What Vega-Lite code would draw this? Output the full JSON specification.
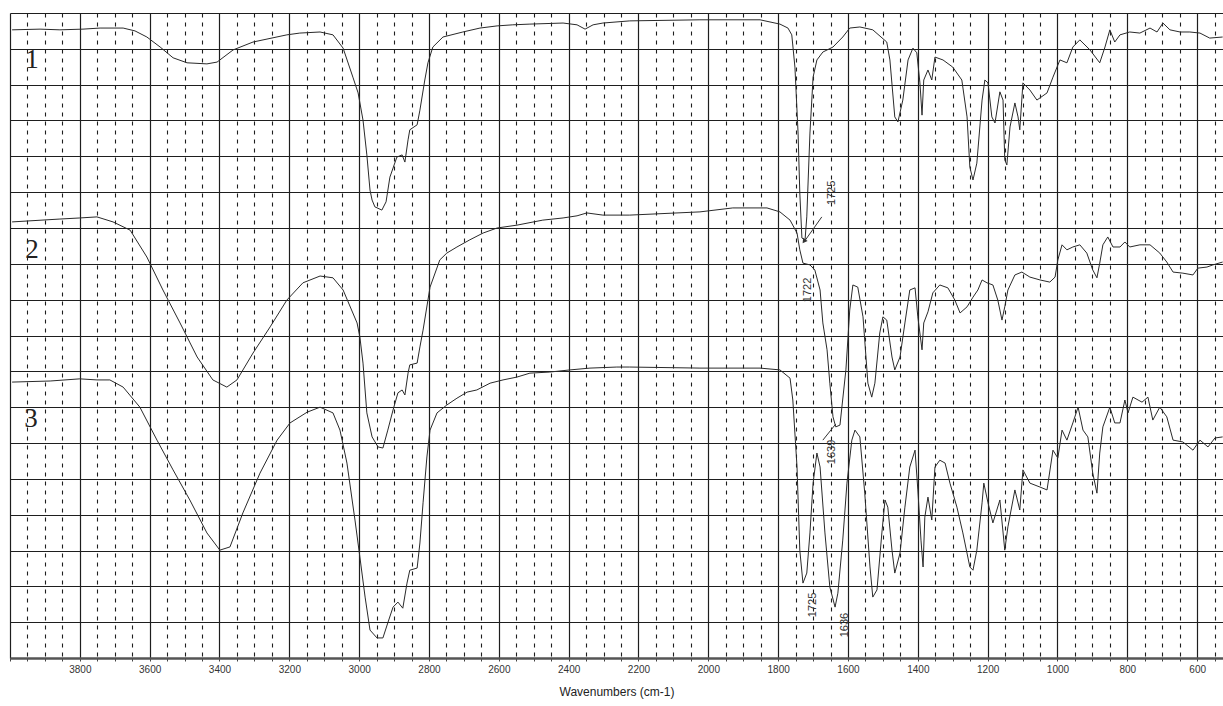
{
  "$schema": "https://vega.github.io/schema/vega-lite/v6.json",
  "autosize": "none",
  "width": 1213,
  "height": 645,
  "padding": {"left": 10, "top": 13, "right": 0, "bottom": 48},
  "background": "white",
  "config": {"view": {"stroke": null}},
  "datasets": {
    "spectra": [
      {"s":"1","w":3994,"t":17.53},{"s":"1","w":3914,"t":17.55},{"s":"1","w":3857,"t":17.53},{"s":"1","w":3791,"t":17.55},{"s":"1","w":3742,"t":17.58},{"s":"1","w":3676,"t":17.58},{"s":"1","w":3642,"t":17.50},{"s":"1","w":3608,"t":17.33},{"s":"1","w":3570,"t":17.05},{"s":"1","w":3533,"t":16.75},{"s":"1","w":3493,"t":16.61},{"s":"1","w":3436,"t":16.58},{"s":"1","w":3407,"t":16.63},{"s":"1","w":3361,"t":16.97},{"s":"1","w":3304,"t":17.19},{"s":"1","w":3207,"t":17.39},{"s":"1","w":3170,"t":17.44},{"s":"1","w":3112,"t":17.47},{"s":"1","w":3075,"t":17.39},{"s":"1","w":3046,"t":17.02},{"s":"1","w":3018,"t":16.21},{"s":"1","w":3003,"t":15.77},{"s":"1","w":2989,"t":15.01},{"s":"1","w":2978,"t":14.04},{"s":"1","w":2969,"t":13.06},{"s":"1","w":2963,"t":12.78},{"s":"1","w":2955,"t":12.59},{"s":"1","w":2935,"t":12.50},{"s":"1","w":2923,"t":12.73},{"s":"1","w":2912,"t":13.42},{"s":"1","w":2892,"t":13.98},{"s":"1","w":2877,"t":14.04},{"s":"1","w":2869,"t":13.84},{"s":"1","w":2860,"t":14.46},{"s":"1","w":2855,"t":14.74},{"s":"1","w":2834,"t":14.88},{"s":"1","w":2826,"t":15.29},{"s":"1","w":2812,"t":16.13},{"s":"1","w":2803,"t":16.61},{"s":"1","w":2789,"t":17.05},{"s":"1","w":2760,"t":17.33},{"s":"1","w":2703,"t":17.47},{"s":"1","w":2654,"t":17.58},{"s":"1","w":2605,"t":17.64},{"s":"1","w":2560,"t":17.67},{"s":"1","w":2511,"t":17.69},{"s":"1","w":2416,"t":17.72},{"s":"1","w":2376,"t":17.67},{"s":"1","w":2353,"t":17.55},{"s":"1","w":2330,"t":17.67},{"s":"1","w":2302,"t":17.72},{"s":"1","w":2225,"t":17.78},{"s":"1","w":2024,"t":17.81},{"s":"1","w":1852,"t":17.81},{"s":"1","w":1795,"t":17.69},{"s":"1","w":1772,"t":17.58},{"s":"1","w":1761,"t":17.39},{"s":"1","w":1752,"t":16.49},{"s":"1","w":1743,"t":14.65},{"s":"1","w":1738,"t":12.98},{"s":"1","w":1732,"t":11.72},{"s":"1","w":1723,"t":11.67},{"s":"1","w":1718,"t":12.31},{"s":"1","w":1709,"t":14.65},{"s":"1","w":1700,"t":16.21},{"s":"1","w":1689,"t":16.69},{"s":"1","w":1672,"t":16.91},{"s":"1","w":1643,"t":17.05},{"s":"1","w":1615,"t":17.33},{"s":"1","w":1595,"t":17.58},{"s":"1","w":1566,"t":17.61},{"s":"1","w":1529,"t":17.53},{"s":"1","w":1489,"t":17.19},{"s":"1","w":1480,"t":16.69},{"s":"1","w":1466,"t":15.10},{"s":"1","w":1457,"t":14.96},{"s":"1","w":1443,"t":15.57},{"s":"1","w":1428,"t":16.69},{"s":"1","w":1414,"t":17.02},{"s":"1","w":1403,"t":16.89},{"s":"1","w":1394,"t":16.05},{"s":"1","w":1388,"t":15.15},{"s":"1","w":1383,"t":16.13},{"s":"1","w":1371,"t":16.41},{"s":"1","w":1360,"t":16.13},{"s":"1","w":1351,"t":16.77},{"s":"1","w":1328,"t":16.69},{"s":"1","w":1300,"t":16.49},{"s":"1","w":1274,"t":16.13},{"s":"1","w":1259,"t":15.10},{"s":"1","w":1251,"t":13.70},{"s":"1","w":1242,"t":13.34},{"s":"1","w":1231,"t":13.81},{"s":"1","w":1216,"t":15.57},{"s":"1","w":1208,"t":16.13},{"s":"1","w":1199,"t":16.05},{"s":"1","w":1188,"t":15.10},{"s":"1","w":1179,"t":14.93},{"s":"1","w":1165,"t":15.80},{"s":"1","w":1156,"t":15.57},{"s":"1","w":1151,"t":13.90},{"s":"1","w":1145,"t":13.76},{"s":"1","w":1136,"t":14.82},{"s":"1","w":1122,"t":15.49},{"s":"1","w":1113,"t":15.10},{"s":"1","w":1108,"t":14.74},{"s":"1","w":1099,"t":16.05},{"s":"1","w":1079,"t":15.85},{"s":"1","w":1059,"t":15.57},{"s":"1","w":1030,"t":15.77},{"s":"1","w":1013,"t":16.21},{"s":"1","w":993,"t":16.69},{"s":"1","w":973,"t":16.61},{"s":"1","w":956,"t":17.05},{"s":"1","w":936,"t":17.25},{"s":"1","w":907,"t":16.97},{"s":"1","w":879,"t":16.61},{"s":"1","w":864,"t":17.05},{"s":"1","w":850,"t":17.53},{"s":"1","w":836,"t":17.19},{"s":"1","w":821,"t":17.39},{"s":"1","w":793,"t":17.47},{"s":"1","w":764,"t":17.44},{"s":"1","w":735,"t":17.58},{"s":"1","w":715,"t":17.47},{"s":"1","w":698,"t":17.72},{"s":"1","w":678,"t":17.53},{"s":"1","w":649,"t":17.47},{"s":"1","w":621,"t":17.47},{"s":"1","w":592,"t":17.44},{"s":"1","w":564,"t":17.30},{"s":"1","w":527,"t":17.33},
      {"s":"2","w":3994,"t":12.17},{"s":"2","w":3857,"t":12.25},{"s":"2","w":3800,"t":12.28},{"s":"2","w":3751,"t":12.31},{"s":"2","w":3705,"t":12.17},{"s":"2","w":3656,"t":11.94},{"s":"2","w":3608,"t":11.19},{"s":"2","w":3562,"t":10.27},{"s":"2","w":3513,"t":9.35},{"s":"2","w":3464,"t":8.40},{"s":"2","w":3419,"t":7.76},{"s":"2","w":3379,"t":7.56},{"s":"2","w":3350,"t":7.76},{"s":"2","w":3304,"t":8.51},{"s":"2","w":3255,"t":9.24},{"s":"2","w":3207,"t":9.99},{"s":"2","w":3161,"t":10.47},{"s":"2","w":3112,"t":10.66},{"s":"2","w":3075,"t":10.61},{"s":"2","w":3046,"t":10.27},{"s":"2","w":3006,"t":9.35},{"s":"2","w":2998,"t":8.96},{"s":"2","w":2989,"t":8.23},{"s":"2","w":2978,"t":6.84},{"s":"2","w":2963,"t":6.17},{"s":"2","w":2946,"t":5.89},{"s":"2","w":2932,"t":5.86},{"s":"2","w":2918,"t":6.36},{"s":"2","w":2903,"t":6.92},{"s":"2","w":2889,"t":7.40},{"s":"2","w":2877,"t":7.48},{"s":"2","w":2869,"t":7.34},{"s":"2","w":2860,"t":7.95},{"s":"2","w":2855,"t":8.18},{"s":"2","w":2834,"t":8.23},{"s":"2","w":2826,"t":8.68},{"s":"2","w":2817,"t":9.15},{"s":"2","w":2797,"t":10.35},{"s":"2","w":2769,"t":11.11},{"s":"2","w":2749,"t":11.30},{"s":"2","w":2720,"t":11.47},{"s":"2","w":2683,"t":11.67},{"s":"2","w":2645,"t":11.86},{"s":"2","w":2605,"t":12.00},{"s":"2","w":2548,"t":12.08},{"s":"2","w":2474,"t":12.22},{"s":"2","w":2416,"t":12.28},{"s":"2","w":2376,"t":12.34},{"s":"2","w":2348,"t":12.42},{"s":"2","w":2302,"t":12.36},{"s":"2","w":2225,"t":12.36},{"s":"2","w":2024,"t":12.45},{"s":"2","w":1930,"t":12.56},{"s":"2","w":1832,"t":12.56},{"s":"2","w":1795,"t":12.45},{"s":"2","w":1766,"t":12.22},{"s":"2","w":1746,"t":11.86},{"s":"2","w":1738,"t":11.39},{"s":"2","w":1729,"t":11.02},{"s":"2","w":1709,"t":10.97},{"s":"2","w":1695,"t":10.83},{"s":"2","w":1680,"t":10.27},{"s":"2","w":1672,"t":9.35},{"s":"2","w":1660,"t":8.60},{"s":"2","w":1652,"t":7.67},{"s":"2","w":1643,"t":6.73},{"s":"2","w":1635,"t":6.45},{"s":"2","w":1623,"t":6.50},{"s":"2","w":1606,"t":8.04},{"s":"2","w":1595,"t":9.71},{"s":"2","w":1586,"t":10.41},{"s":"2","w":1572,"t":10.35},{"s":"2","w":1557,"t":9.52},{"s":"2","w":1543,"t":7.67},{"s":"2","w":1532,"t":7.28},{"s":"2","w":1523,"t":7.67},{"s":"2","w":1509,"t":9.07},{"s":"2","w":1500,"t":9.52},{"s":"2","w":1489,"t":9.43},{"s":"2","w":1474,"t":8.40},{"s":"2","w":1466,"t":8.04},{"s":"2","w":1451,"t":8.40},{"s":"2","w":1437,"t":9.35},{"s":"2","w":1423,"t":10.27},{"s":"2","w":1408,"t":10.33},{"s":"2","w":1400,"t":9.52},{"s":"2","w":1388,"t":8.60},{"s":"2","w":1383,"t":9.35},{"s":"2","w":1371,"t":9.66},{"s":"2","w":1357,"t":10.19},{"s":"2","w":1337,"t":10.41},{"s":"2","w":1314,"t":10.33},{"s":"2","w":1294,"t":9.99},{"s":"2","w":1279,"t":9.63},{"s":"2","w":1259,"t":9.80},{"s":"2","w":1242,"t":10.07},{"s":"2","w":1228,"t":10.27},{"s":"2","w":1216,"t":10.55},{"s":"2","w":1202,"t":10.47},{"s":"2","w":1185,"t":10.41},{"s":"2","w":1171,"t":9.99},{"s":"2","w":1159,"t":9.43},{"s":"2","w":1151,"t":9.80},{"s":"2","w":1142,"t":10.27},{"s":"2","w":1122,"t":10.69},{"s":"2","w":1102,"t":10.77},{"s":"2","w":1079,"t":10.63},{"s":"2","w":1050,"t":10.55},{"s":"2","w":1022,"t":10.49},{"s":"2","w":1007,"t":10.63},{"s":"2","w":999,"t":11.11},{"s":"2","w":987,"t":11.53},{"s":"2","w":973,"t":11.39},{"s":"2","w":956,"t":11.47},{"s":"2","w":936,"t":11.53},{"s":"2","w":916,"t":11.30},{"s":"2","w":899,"t":10.83},{"s":"2","w":887,"t":10.61},{"s":"2","w":879,"t":11.02},{"s":"2","w":870,"t":11.53},{"s":"2","w":856,"t":11.75},{"s":"2","w":841,"t":11.47},{"s":"2","w":821,"t":11.47},{"s":"2","w":807,"t":11.61},{"s":"2","w":793,"t":11.47},{"s":"2","w":764,"t":11.53},{"s":"2","w":735,"t":11.53},{"s":"2","w":707,"t":11.30},{"s":"2","w":687,"t":11.05},{"s":"2","w":669,"t":10.77},{"s":"2","w":641,"t":10.74},{"s":"2","w":612,"t":10.69},{"s":"2","w":598,"t":10.88},{"s":"2","w":572,"t":10.91},{"s":"2","w":555,"t":10.97},{"s":"2","w":527,"t":11.05},
      {"s":"3","w":3994,"t":7.70},{"s":"3","w":3885,"t":7.73},{"s":"3","w":3800,"t":7.79},{"s":"3","w":3751,"t":7.76},{"s":"3","w":3714,"t":7.76},{"s":"3","w":3676,"t":7.56},{"s":"3","w":3628,"t":7.00},{"s":"3","w":3579,"t":6.08},{"s":"3","w":3533,"t":5.25},{"s":"3","w":3485,"t":4.41},{"s":"3","w":3436,"t":3.49},{"s":"3","w":3399,"t":3.01},{"s":"3","w":3370,"t":3.10},{"s":"3","w":3333,"t":4.05},{"s":"3","w":3284,"t":5.16},{"s":"3","w":3235,"t":6.08},{"s":"3","w":3198,"t":6.56},{"s":"3","w":3149,"t":6.86},{"s":"3","w":3112,"t":7.00},{"s":"3","w":3075,"t":6.84},{"s":"3","w":3055,"t":6.36},{"s":"3","w":3035,"t":5.44},{"s":"3","w":3012,"t":3.85},{"s":"3","w":2998,"t":2.82},{"s":"3","w":2983,"t":1.70},{"s":"3","w":2969,"t":0.78},{"s":"3","w":2949,"t":0.56},{"s":"3","w":2932,"t":0.56},{"s":"3","w":2918,"t":0.98},{"s":"3","w":2903,"t":1.42},{"s":"3","w":2889,"t":1.56},{"s":"3","w":2875,"t":1.39},{"s":"3","w":2863,"t":2.09},{"s":"3","w":2855,"t":2.45},{"s":"3","w":2834,"t":2.51},{"s":"3","w":2826,"t":3.21},{"s":"3","w":2817,"t":4.33},{"s":"3","w":2806,"t":5.61},{"s":"3","w":2797,"t":6.36},{"s":"3","w":2777,"t":6.84},{"s":"3","w":2749,"t":7.06},{"s":"3","w":2720,"t":7.25},{"s":"3","w":2691,"t":7.42},{"s":"3","w":2663,"t":7.48},{"s":"3","w":2625,"t":7.67},{"s":"3","w":2588,"t":7.76},{"s":"3","w":2548,"t":7.84},{"s":"3","w":2511,"t":7.95},{"s":"3","w":2454,"t":7.98},{"s":"3","w":2396,"t":8.04},{"s":"3","w":2339,"t":8.09},{"s":"3","w":2262,"t":8.12},{"s":"3","w":2225,"t":8.12},{"s":"3","w":2024,"t":8.09},{"s":"3","w":1852,"t":8.09},{"s":"3","w":1795,"t":8.04},{"s":"3","w":1766,"t":7.81},{"s":"3","w":1758,"t":7.20},{"s":"3","w":1746,"t":5.33},{"s":"3","w":1738,"t":3.01},{"s":"3","w":1729,"t":2.09},{"s":"3","w":1718,"t":2.37},{"s":"3","w":1709,"t":3.49},{"s":"3","w":1700,"t":4.88},{"s":"3","w":1689,"t":5.72},{"s":"3","w":1680,"t":5.33},{"s":"3","w":1666,"t":3.49},{"s":"3","w":1652,"t":1.98},{"s":"3","w":1637,"t":1.42},{"s":"3","w":1629,"t":1.81},{"s":"3","w":1615,"t":3.29},{"s":"3","w":1603,"t":4.88},{"s":"3","w":1589,"t":6.08},{"s":"3","w":1580,"t":6.36},{"s":"3","w":1566,"t":6.17},{"s":"3","w":1552,"t":4.60},{"s":"3","w":1537,"t":2.54},{"s":"3","w":1529,"t":1.70},{"s":"3","w":1517,"t":1.90},{"s":"3","w":1503,"t":3.49},{"s":"3","w":1494,"t":4.41},{"s":"3","w":1486,"t":4.21},{"s":"3","w":1474,"t":3.01},{"s":"3","w":1466,"t":2.37},{"s":"3","w":1451,"t":2.93},{"s":"3","w":1437,"t":4.21},{"s":"3","w":1423,"t":5.33},{"s":"3","w":1408,"t":5.80},{"s":"3","w":1400,"t":4.69},{"s":"3","w":1391,"t":3.29},{"s":"3","w":1385,"t":2.54},{"s":"3","w":1380,"t":3.93},{"s":"3","w":1371,"t":4.49},{"s":"3","w":1360,"t":3.85},{"s":"3","w":1351,"t":5.33},{"s":"3","w":1337,"t":5.52},{"s":"3","w":1322,"t":5.44},{"s":"3","w":1308,"t":4.88},{"s":"3","w":1288,"t":4.21},{"s":"3","w":1271,"t":3.49},{"s":"3","w":1251,"t":2.54},{"s":"3","w":1242,"t":2.45},{"s":"3","w":1231,"t":3.01},{"s":"3","w":1216,"t":4.33},{"s":"3","w":1211,"t":4.88},{"s":"3","w":1199,"t":4.33},{"s":"3","w":1185,"t":3.77},{"s":"3","w":1165,"t":4.41},{"s":"3","w":1151,"t":3.01},{"s":"3","w":1142,"t":3.66},{"s":"3","w":1122,"t":4.69},{"s":"3","w":1108,"t":4.13},{"s":"3","w":1099,"t":5.25},{"s":"3","w":1079,"t":4.88},{"s":"3","w":1050,"t":4.77},{"s":"3","w":1030,"t":4.69},{"s":"3","w":1013,"t":5.80},{"s":"3","w":999,"t":5.58},{"s":"3","w":987,"t":6.36},{"s":"3","w":973,"t":6.08},{"s":"3","w":956,"t":6.56},{"s":"3","w":941,"t":7.00},{"s":"3","w":927,"t":6.36},{"s":"3","w":913,"t":6.17},{"s":"3","w":899,"t":5.16},{"s":"3","w":887,"t":4.60},{"s":"3","w":879,"t":5.72},{"s":"3","w":870,"t":6.45},{"s":"3","w":850,"t":7.00},{"s":"3","w":836,"t":6.56},{"s":"3","w":821,"t":6.56},{"s":"3","w":807,"t":7.20},{"s":"3","w":798,"t":6.84},{"s":"3","w":784,"t":7.28},{"s":"3","w":758,"t":7.14},{"s":"3","w":741,"t":7.28},{"s":"3","w":727,"t":6.64},{"s":"3","w":707,"t":7.00},{"s":"3","w":687,"t":6.73},{"s":"3","w":669,"t":6.08},{"s":"3","w":641,"t":6.03},{"s":"3","w":612,"t":5.80},{"s":"3","w":592,"t":6.08},{"s":"3","w":569,"t":5.89},{"s":"3","w":549,"t":6.14},{"s":"3","w":527,"t":6.17}
    ],
    "numbers": [
      {"w":3937,"t":16.47,"label":"1"},
      {"w":3937,"t":11.16,"label":"2"},
      {"w":3940,"t":6.45,"label":"3"}
    ],
    "peaks": [
      {"w":1646,"t":12.98,"label":"1725"},
      {"w":1715,"t":10.27,"label":"1722"},
      {"w":1646,"t":5.75,"label":"1639"},
      {"w":1700,"t":1.48,"label":"1725"},
      {"w":1609,"t":0.92,"label":"1636"}
    ],
    "leaders": [
      {"w":1675,"t":12.31,"w2":1726,"t2":11.61},
      {"w":1672,"t":6.08,"w2":1635,"t2":6.53}
    ],
    "heads": [
      {"w":1726,"t":11.63}
    ]
  },
  "layer": [
    {
      "data": {"name": "spectra"},
      "mark": {"type": "line", "color": "#2a2a2a", "strokeWidth": 1, "interpolate": "linear"},
      "encoding": {
        "x": {
          "field": "w", "type": "quantitative",
          "scale": {"domain": [526, 4000], "reverse": true, "nice": false, "zero": false},
          "axis": {
            "values": [4000,3950,3900,3850,3800,3750,3700,3650,3600,3550,3500,3450,3400,3350,3300,3250,3200,3150,3100,3050,3000,2950,2900,2850,2800,2750,2700,2650,2600,2550,2500,2450,2400,2350,2300,2250,2200,2150,2100,2050,2000,1950,1900,1850,1800,1750,1700,1650,1600,1550,1500,1450,1400,1350,1300,1250,1200,1150,1100,1050,1000,950,900,850,800,750,700,650,600,550],
            "tickCount": 500,
            "grid": true,
            "gridColor": "#1e1e1e",
            "gridWidth": {"condition": {"test": "datum.value % 200 === 0", "value": 1.2}, "value": 1.1},
            "gridDash": {"condition": {"test": "datum.value % 200 === 0", "value": []}, "value": [4, 5]},
            "labelExpr": "datum.value % 200 === 0 && datum.value < 4000 ? format(datum.value, 'd') : ''",
            "labelFont": "Liberation Sans",
            "labelFontSize": 10,
            "labelColor": "#333",
            "labelPadding": 3,
            "labelOverlap": false,
            "labelFlush": false,
            "ticks": true,
            "tickSize": 3,
            "tickColor": "#444",
            "domain": true,
            "domainColor": "#555",
            "domainWidth": 2.5,
            "title": "Wavenumbers (cm-1)",
            "titleFont": "Liberation Sans",
            "titleFontSize": 12,
            "titleFontWeight": "normal",
            "titleColor": "#222",
            "titlePadding": 12
          }
        },
        "y": {
          "field": "t", "type": "quantitative",
          "scale": {"domain": [0, 18], "nice": false, "zero": false},
          "axis": {
            "values": [0,1,2,3,4,5,6,7,8,9,10,11,12,13,14,15,16,17,18],
            "tickCount": 100,
            "grid": true,
            "gridColor": "#1e1e1e",
            "gridWidth": 1.2,
            "labels": false,
            "ticks": false,
            "domain": false,
            "title": null
          }
        },
        "detail": {"field": "s", "type": "nominal"}
      }
    },
    {
      "data": {"name": "numbers"},
      "mark": {"type": "text", "font": "Liberation Serif", "fontSize": 27, "color": "#222", "align": "center", "baseline": "alphabetic"},
      "encoding": {
        "x": {"field": "w", "type": "quantitative"},
        "y": {"field": "t", "type": "quantitative"},
        "text": {"field": "label"}
      }
    },
    {
      "data": {"name": "peaks"},
      "mark": {"type": "text", "font": "Liberation Sans", "fontSize": 11, "color": "#333", "angle": 270, "align": "center", "baseline": "middle"},
      "encoding": {
        "x": {"field": "w", "type": "quantitative"},
        "y": {"field": "t", "type": "quantitative"},
        "text": {"field": "label"}
      }
    },
    {
      "data": {"name": "leaders"},
      "mark": {"type": "rule", "color": "#333", "strokeWidth": 1},
      "encoding": {
        "x": {"field": "w", "type": "quantitative"},
        "y": {"field": "t", "type": "quantitative"},
        "x2": {"field": "w2"},
        "y2": {"field": "t2"}
      }
    },
    {
      "data": {"name": "heads"},
      "mark": {"type": "point", "shape": "triangle-up", "filled": true, "color": "#333", "size": 30, "angle": 217, "opacity": 1},
      "encoding": {
        "x": {"field": "w", "type": "quantitative"},
        "y": {"field": "t", "type": "quantitative"}
      }
    }
  ]
}
